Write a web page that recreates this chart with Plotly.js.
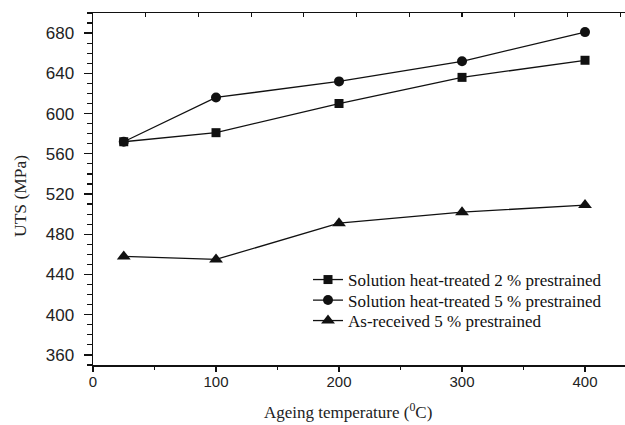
<!DOCTYPE html>
<html>
<head>
<meta charset="utf-8">
<script src="https://cdn.plot.ly/plotly-3.0.1.min.js"></script>
<style>html,body{margin:0;padding:0;background:#fff;}#chart{width:625px;height:425px;}</style>
</head>
<body>
<div id="chart"></div>
<script>
const temperatures = [25, 100, 200, 300, 400];
const sht2 = [572, 581, 610, 636, 653];
const sht5 = [572, 616, 632, 652, 681];
const asReceived5 = [458, 455, 491, 502, 509];
const seriesNames = [
  'Solution heat-treated 2 % prestrained',
  'Solution heat-treated 5 % prestrained',
  'As-received 5 % prestrained'
];

const lineStyle = {color: '#111', width: 1.3};
const traces = [
  {x: temperatures, y: sht2, name: seriesNames[0], mode: 'lines+markers', line: lineStyle,
   marker: {symbol: 'square', size: 9, color: '#111'}, legend: 'legend'},
  {x: temperatures, y: sht5, name: seriesNames[1], mode: 'lines+markers', line: lineStyle,
   marker: {symbol: 'circle', size: 10, color: '#111'}, legend: 'legend2'},
  {x: temperatures, y: asReceived5, name: seriesNames[2], mode: 'lines+markers', line: lineStyle,
   marker: {symbol: 'triangle-up', size: 12, color: '#111'}, legend: 'legend3'},
  {x: [], y: [], xaxis: 'x2', showlegend: false, hoverinfo: 'skip'}
];

const L = 93, T = 13, W = 625, H = 425, B = 60;
const plotW = W - L, plotH = H - T - B;
const serif = 'Liberation Serif, Times New Roman, serif';
const sans = 'Liberation Sans, Arial, sans-serif';

function legendAt(yPix) {
  return {
    x: (308 - L) / plotW, y: (365 - yPix) / plotH, xanchor: 'left', yanchor: 'middle',
    bgcolor: 'rgba(0,0,0,0)', borderwidth: 0,
    font: {family: serif, size: 17, color: '#111'}
  };
}

const layout = {
  width: W, height: H,
  margin: {l: L, r: 0, t: T, b: B, pad: 0},
  paper_bgcolor: '#fff', plot_bgcolor: '#fff',
  showlegend: true,
  font: {family: sans, color: '#222', size: 16},
  xaxis: {
    range: [0, 432.5], tick0: 0, dtick: 100, ticks: 'outside', ticklen: 5, tickwidth: 1.3,
    tickcolor: '#111', showline: true, linecolor: '#111', linewidth: 1.5, mirror: false,
    showgrid: false, zeroline: false, ticklabelstandoff: -3,
    minor: {dtick: 50, ticks: 'outside', ticklen: 3, tickcolor: '#111', tickwidth: 1.2},
    tickfont: {family: sans, size: 15, color: '#222'}
  },
  xaxis2: {
    overlaying: 'x', side: 'top', range: [0, 10.09], dtick: 1, tick0: 0,
    ticks: 'inside', ticklen: 4, tickwidth: 1.2, tickcolor: '#111',
    showline: true, linecolor: '#111', linewidth: 1.5,
    showticklabels: false, showgrid: false, zeroline: false
  },
  yaxis: {
    range: [350, 700], tick0: 360, dtick: 40, ticks: 'outside', ticklen: 8, tickwidth: 1.3,
    tickcolor: '#111', showline: true, linecolor: '#111', linewidth: 1.5, mirror: false,
    showgrid: false, zeroline: false, ticklabelstandoff: 6,
    minor: {dtick: 10, ticks: 'outside', ticklen: 5, tickcolor: '#111', tickwidth: 1.2},
    tickfont: {family: sans, size: 17, color: '#222'}
  },
  legend: legendAt(280),
  legend2: legendAt(300.5),
  legend3: legendAt(321),
  annotations: [
    {text: 'UTS (MPa)', xref: 'paper', yref: 'paper', x: (20 - L) / plotW, y: (365 - 196) / plotH,
     xanchor: 'center', yanchor: 'middle', textangle: -90, showarrow: false,
     font: {family: serif, size: 17.5, color: '#222'}},
    {text: 'Ageing temperature (<sup>0</sup>C)', xref: 'paper', yref: 'paper',
     x: (348 - L) / plotW, y: (365 - 411) / plotH, xanchor: 'center', yanchor: 'middle',
     showarrow: false,
     font: {family: serif, size: 17, color: '#222'}}
  ]
};

Plotly.newPlot('chart', traces, layout, {displayModeBar: false, staticPlot: true});
</script>
</body>
</html>
